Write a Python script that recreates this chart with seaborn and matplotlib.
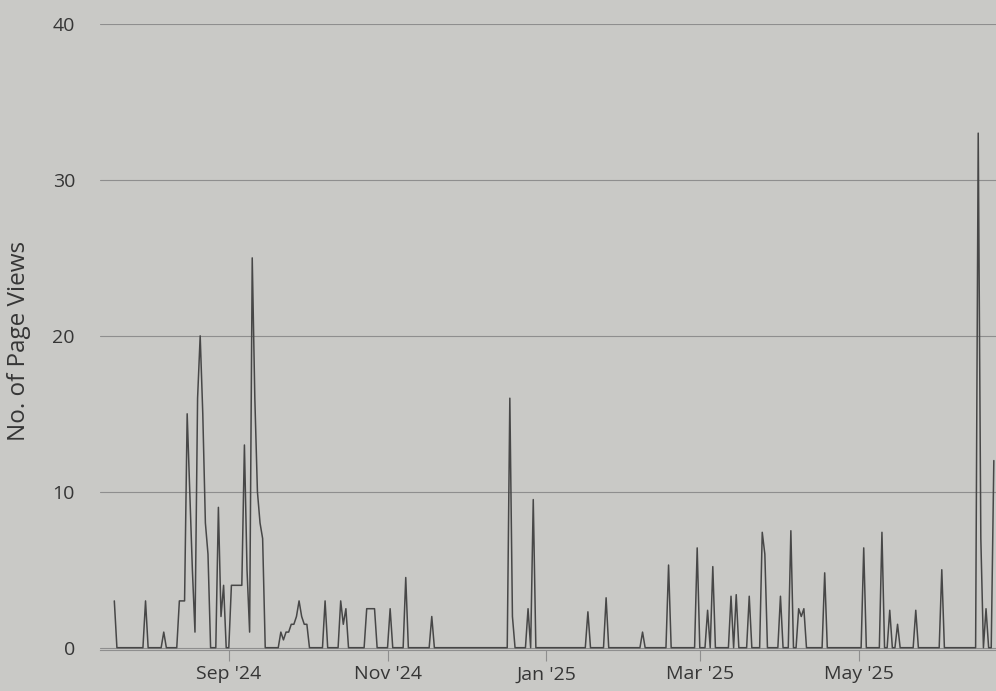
import pandas as pd
import numpy as np
import matplotlib
matplotlib.use("Agg")
import matplotlib.pyplot as plt
import matplotlib.dates as mdates
import seaborn as sns

# daily page views - only the days with views are listed, all other days are 0
view_dates = [
    "2024-07-19", "2024-07-31", "2024-08-07",
    "2024-08-13", "2024-08-14", "2024-08-15", "2024-08-16", "2024-08-17", "2024-08-18",
    "2024-08-19", "2024-08-20", "2024-08-21", "2024-08-22", "2024-08-23", "2024-08-24",
    "2024-08-28", "2024-08-29", "2024-08-30",
    "2024-09-02", "2024-09-03", "2024-09-04", "2024-09-05", "2024-09-06",
    "2024-09-07", "2024-09-08", "2024-09-09", "2024-09-10", "2024-09-11",
    "2024-09-12", "2024-09-13", "2024-09-14",
    "2024-09-21", "2024-09-22", "2024-09-23", "2024-09-24", "2024-09-25", "2024-09-26",
    "2024-09-27", "2024-09-28", "2024-09-29", "2024-09-30", "2024-10-01",
    "2024-10-08", "2024-10-14", "2024-10-15", "2024-10-16",
    "2024-10-24", "2024-10-25", "2024-10-26", "2024-10-27",
    "2024-11-02", "2024-11-08", "2024-11-18",
    "2024-12-18", "2024-12-19", "2024-12-25", "2024-12-27",
    "2025-01-17", "2025-01-24", "2025-02-07", "2025-02-17", "2025-02-28",
    "2025-03-04", "2025-03-06", "2025-03-13", "2025-03-15", "2025-03-20",
    "2025-03-25", "2025-03-26", "2025-04-01", "2025-04-05",
    "2025-04-08", "2025-04-09", "2025-04-10", "2025-04-18",
    "2025-05-03", "2025-05-10", "2025-05-13", "2025-05-16", "2025-05-23",
    "2025-06-02", "2025-06-16", "2025-06-17", "2025-06-19", "2025-06-22",
]
view_counts = [
    3, 3, 1,
    3, 3, 3, 15, 10, 5,
    1, 16, 20, 15, 8, 6,
    9, 2, 4,
    4, 4, 4, 4, 4,
    13, 5, 1, 25, 16,
    10, 8, 7,
    1, 0.5, 1, 1, 1.5, 1.5,
    2, 3, 2, 1.5, 1.5,
    3, 3, 1.5, 2.5,
    2.5, 2.5, 2.5, 2.5,
    2.5, 4.5, 2,
    16, 2, 2.5, 9.5,
    2.3, 3.2, 1, 5.3, 6.4,
    2.4, 5.2, 3.3, 3.4, 3.3,
    7.4, 6, 3.3, 7.5,
    2.5, 2, 2.5, 4.8,
    6.4, 7.4, 2.4, 1.5, 2.4,
    5, 33, 7, 2.5, 12,
]
first_day = "2024-07-19"
last_day = "2025-06-22"
y_ticks = [0, 10, 20, 30, 40]

days = pd.date_range(first_day, last_day, freq="D")
views = pd.Series(view_counts, index=pd.to_datetime(view_dates)).reindex(days, fill_value=0)
df = pd.DataFrame({"date": days, "views": views.values})

bg = "#c9c9c6"
ink = "#363636"

sns.set_theme(style="white")
plt.rcParams["font.family"] = ["Open Sans", "DejaVu Sans"]

fig = plt.figure(figsize=(9.96, 6.91), dpi=100, facecolor=bg)
ax = fig.add_axes([0.1004, 0.0593, 0.8996, 0.906])
ax.set_facecolor(bg)

sns.lineplot(data=df, x="date", y="views", color="#474747", linewidth=1.1, ax=ax)

ax.set_xlim(pd.Timestamp("2024-07-13 12:00"), pd.Timestamp("2025-06-22 20:00"))
ax.set_ylim(-0.15, 40)
ax.set_yticks(y_ticks)
ax.yaxis.grid(True, color="#8e8e8e", linewidth=0.8)
ax.xaxis.grid(False)

ax.xaxis.set_major_locator(mdates.MonthLocator(bymonth=[1, 3, 5, 9, 11]))
ax.xaxis.set_major_formatter(mdates.DateFormatter("%b '%y"))

for s in ["top", "right", "left"]:
    ax.spines[s].set_visible(False)
ax.spines["bottom"].set_color("#8e8e8e")
ax.spines["bottom"].set_linewidth(0.8)

ax.tick_params(axis="x", bottom=True, length=8, width=0.8, color="#8e8e8e",
               pad=3, labelsize=14, labelcolor=ink)
ax.tick_params(axis="y", left=False, length=0, pad=18, labelsize=14, labelcolor=ink)

ax.set_xlabel("")
ax.set_ylabel("No. of Page Views", fontsize=17.5, color=ink)
ax.yaxis.set_label_coords(-0.077, 0.494)

fig.savefig("out.png", dpi=100, facecolor=bg)
